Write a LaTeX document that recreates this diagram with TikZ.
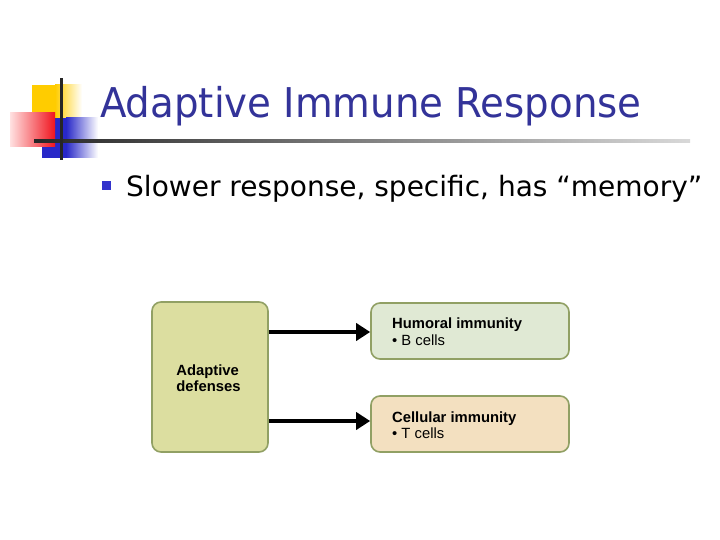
\documentclass[tikz,border=0pt]{standalone}
\usepackage{fontspec}
\setmainfont{Liberation Sans}
\newfontfamily\tahoma[FakeStretch=1.05]{DejaVu Sans Condensed}
\newfontfamily\verd{DejaVu Sans}
\usetikzlibrary{arrows.meta}
\definecolor{titleblue}{RGB}{51,51,153}
\definecolor{bulletblue}{RGB}{51,51,204}
\definecolor{adaptfill}{RGB}{220,222,160}
\definecolor{humfill}{RGB}{224,233,212}
\definecolor{celfill}{RGB}{243,224,192}
\definecolor{boxline}{RGB}{145,160,100}
\definecolor{logoyellow}{RGB}{255,204,0}
\definecolor{logoblue}{RGB}{40,40,200}
\definecolor{logored}{RGB}{240,20,30}
\definecolor{logopink}{RGB}{255,225,225}
\tikzset{
  box/.style={draw=boxline, line width=1.6pt, rounded corners=9pt, inner sep=0pt},
  conn/.style={line width=4.5pt, -{Triangle[length=14pt,width=17pt]}},
  lbl/.style={font=\fontsize{14.8}{17}\selectfont, anchor=base west, inner sep=0pt}
}
\begin{document}
\begin{tikzpicture}[x=1pt,y=-1pt]
\useasboundingbox (0,0) rectangle (720,540);
\fill[white] (0,0) rectangle (720,540);
% logo
\shade[left color=logoyellow, right color=white] (55,85) rectangle (82,118);
\fill[logoyellow] (32,85) rectangle (55.5,118);
\shade[left color=logoblue, right color=white] (66,118) rectangle (98,158);
\fill[logoblue] (42,118) rectangle (66.5,158);
\shade[left color=logopink, right color=logored] (10,113) rectangle (55,147);
\shade[left color=black!85, right color=black!15] (34,140) rectangle (690,142.5);
\fill[black!85] (60,78) rectangle (63,160);
% title
\node[anchor=base west, inner sep=0pt, text=titleblue, font=\tahoma\fontsize{41}{45}\selectfont] (title) at (100,118) {Adaptive Immune Response};
% bullet
\node[fill=bulletblue, minimum size=9pt, inner sep=0pt] (bul) at (106.5,185.5) {};
\node[anchor=base west, inner sep=0pt, font=\verd\fontsize{28}{32}\selectfont] (line1) at (126,196.5) {Slower response, specific, has “memory”};
% diagram
\node[box, fill=adaptfill, minimum width=116pt, minimum height=150pt] (adapt) at (210,377) {};
\node[font=\bfseries\fontsize{14.8}{15.5}\selectfont, align=left, inner sep=0pt] (adlbl) at (208.5,378) {Adaptive\\defenses};
\node[box, fill=humfill, minimum width=198pt, minimum height=56pt] (hum) at (470,331) {};
\node[box, fill=celfill, minimum width=198pt, minimum height=56pt] (cel) at (470,424) {};
\node[lbl, font=\bfseries\fontsize{14.8}{17}\selectfont] (humlbl) at (392,328) {Humoral immunity};
\node[lbl] (humsub) at (392,345) {• B cells};
\node[lbl, font=\bfseries\fontsize{14.8}{17}\selectfont] (cellbl) at (392,422) {Cellular immunity};
\node[lbl] (celsub) at (392,438.5) {• T cells};
\draw[conn] (adapt.east |- 0,332) -- (hum.west |- 0,332);
\draw[conn] (adapt.east |- 0,421) -- (cel.west |- 0,421);
\end{tikzpicture}
\end{document}
